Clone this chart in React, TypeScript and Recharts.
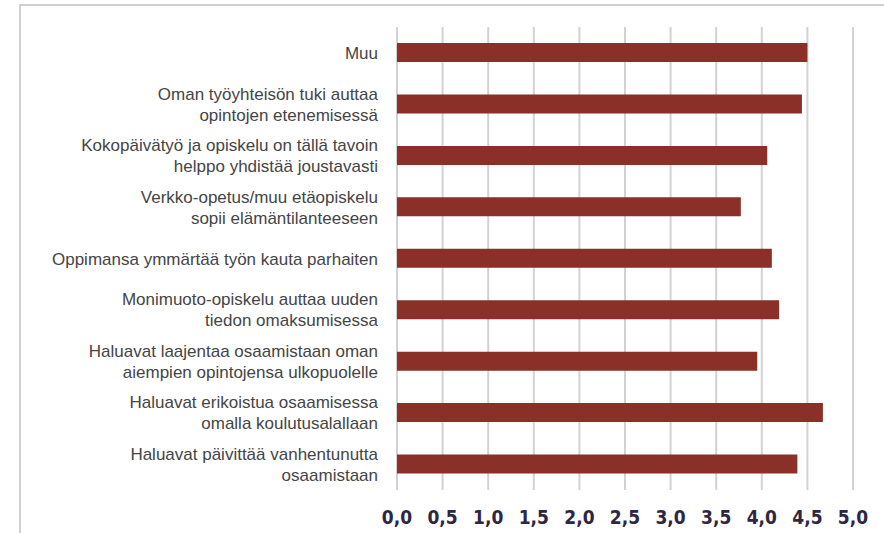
import { BarChart, Bar, XAxis, YAxis, CartesianGrid } from 'recharts';

const categories = [
  'Muu',
  'Oman työyhteisön tuki auttaa\nopintojen etenemisessä',
  'Kokopäivätyö ja opiskelu on tällä tavoin\nhelppo yhdistää joustavasti',
  'Verkko-opetus/muu etäopiskelu\nsopii elämäntilanteeseen',
  'Oppimansa ymmärtää työn kauta parhaiten',
  'Monimuoto-opiskelu auttaa uuden\ntiedon omaksumisessa',
  'Haluavat laajentaa osaamistaan oman\naiempien opintojensa ulkopuolelle',
  'Haluavat erikoistua osaamisessa\nomalla koulutusalallaan',
  'Haluavat päivittää vanhentunutta\nosaamistaan',
];

const values = [4.5, 4.44, 4.06, 3.77, 4.11, 4.19, 3.95, 4.67, 4.39];

const xTicks = [0, 0.5, 1, 1.5, 2, 2.5, 3, 3.5, 4, 4.5, 5];

const data = categories.map((name, i) => ({ name, value: values[i] }));

const BAR_COLOR = '#8a3028';
const GRID_STROKE = '#d2d2d2';

function CategoryTick({ x, y, payload }: any) {
  const lines = String(payload.value).split('\n');
  const lineH = 21;
  const startY = y - ((lines.length - 1) * lineH) / 2;
  return (
    <text
      x={x - 11}
      y={startY}
      textAnchor="end"
      dominantBaseline="central"
      fill="#454545"
      fontSize={17}
      fontFamily="'Liberation Sans', Arial, sans-serif"
    >
      {lines.map((l, i) => (
        <tspan key={i} x={x - 11} dy={i === 0 ? 0 : lineH}>
          {l}
        </tspan>
      ))}
    </text>
  );
}

function ValueTick({ x, y, payload }: any) {
  return (
    <text
      x={x}
      y={y + 26}
      textAnchor="middle"
      fill="#2e2742"
      fontSize={19}
      fontWeight="bold"
      fontFamily="'DejaVu Sans Condensed', 'Liberation Sans Narrow', sans-serif"
      style={{ fontStretch: 'condensed' }}
    >
      {payload.value.toFixed(1).replace('.', ',')}
    </text>
  );
}

export default function App() {
  return (
    <div style={{ position: 'absolute', left: 0, top: 0, width: 884, height: 533, background: '#fff' }}>
      <div
        style={{
          position: 'absolute',
          left: 19,
          top: 4,
          right: 0,
          bottom: 0,
          borderTop: '2px solid #d0d0d0',
          borderLeft: '2px solid #d0d0d0',
        }}
      />
      <BarChart
        width={884}
        height={533}
        data={data}
        layout="vertical"
        margin={{ top: 27, right: 31, bottom: 13, left: 0 }}
        style={{ position: 'absolute', left: 0, top: 0 }}
      >
        <CartesianGrid horizontal={false} stroke={GRID_STROKE} strokeWidth={2} />
        <XAxis
          type="number"
          domain={[0, 5]}
          ticks={xTicks}
          axisLine={false}
          tickLine={false}
          tick={<ValueTick />}
          interval={0}
        />
        <YAxis
          type="category"
          dataKey="name"
          width={397}
          axisLine={false}
          tickLine={false}
          tick={<CategoryTick />}
          interval={0}
        />
        <Bar dataKey="value" fill={BAR_COLOR} barSize={19} isAnimationActive={false} />
      </BarChart>
    </div>
  );
}
